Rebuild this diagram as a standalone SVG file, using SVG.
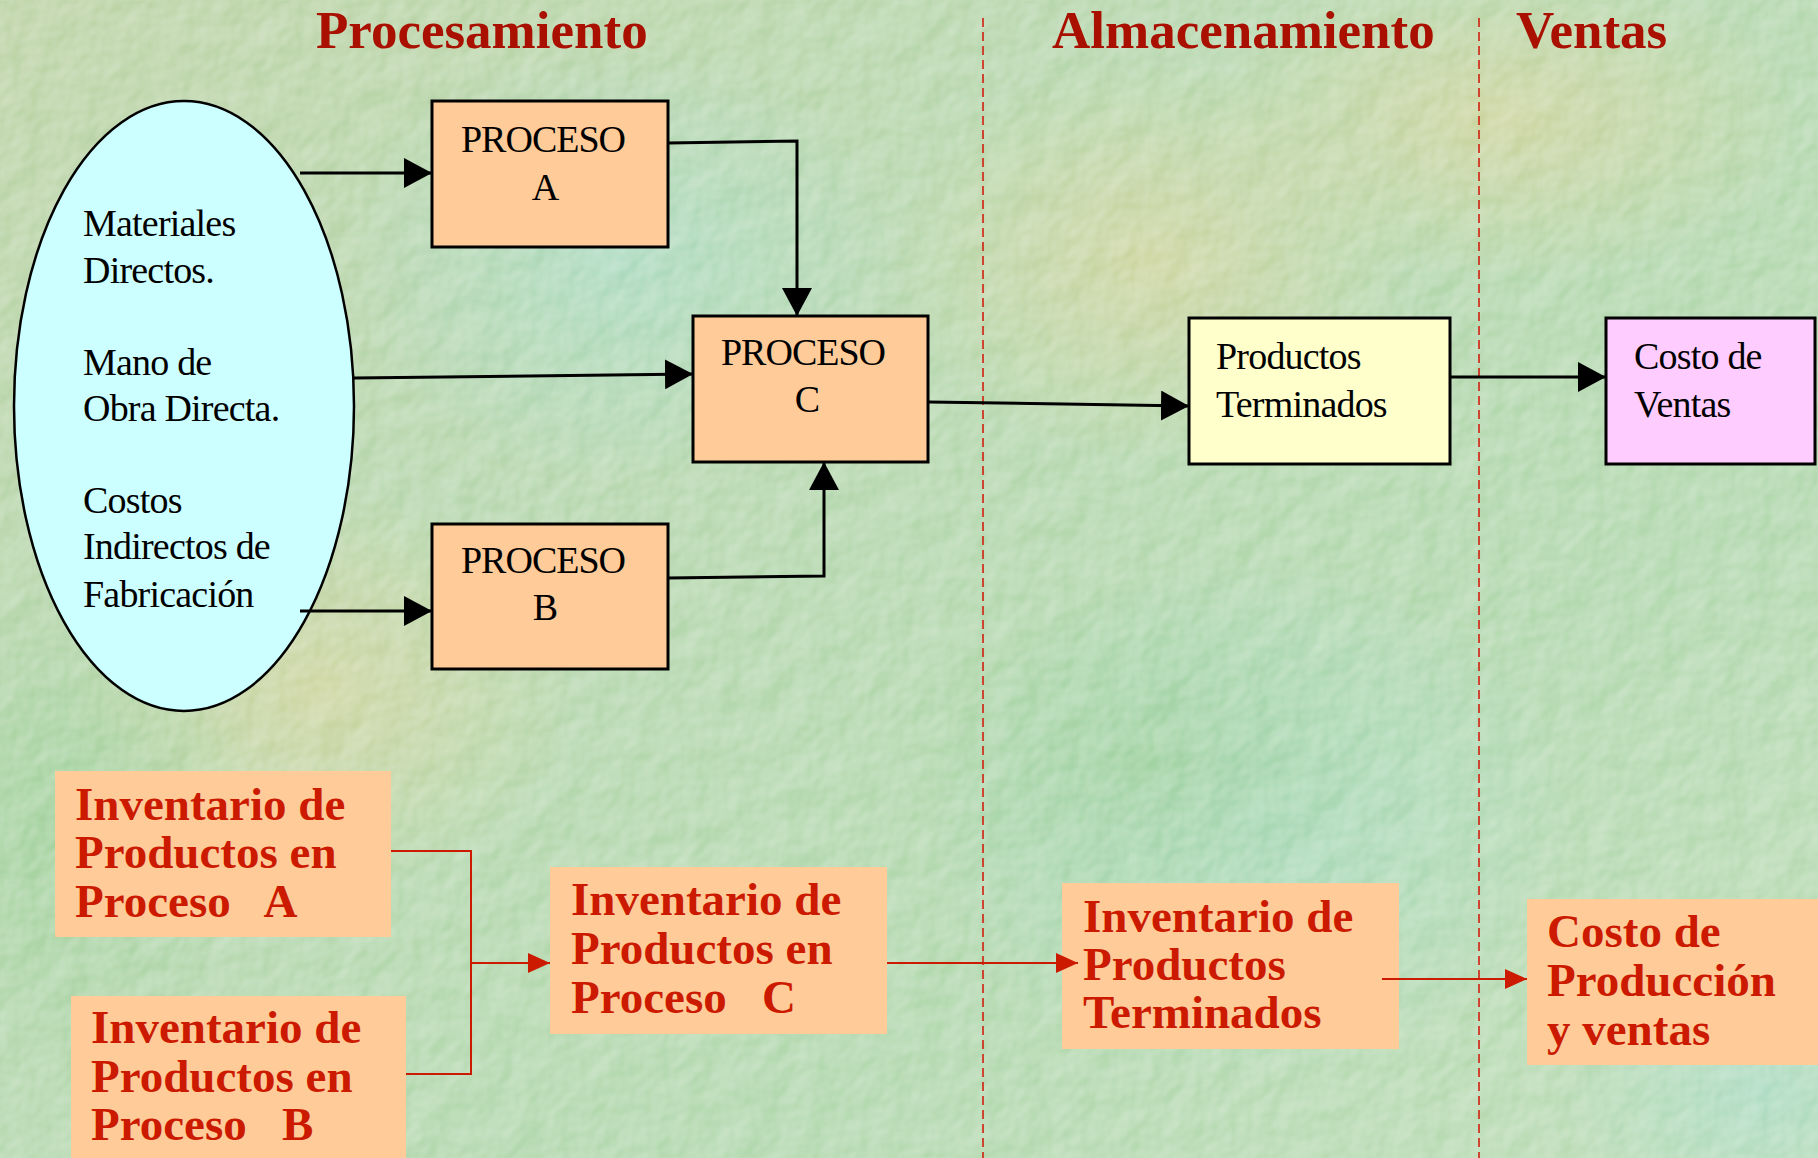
<svg xmlns="http://www.w3.org/2000/svg" width="1818" height="1158" viewBox="0 0 1818 1158">
<defs>
<linearGradient id="bg" x1="0" y1="0" x2="1" y2="1">
<stop offset="0" stop-color="#bdd3a6"/>
<stop offset="0.35" stop-color="#b6d7ae"/>
<stop offset="0.7" stop-color="#b2d8ae"/>
<stop offset="1" stop-color="#bcdcb6"/>
</linearGradient>
<radialGradient id="y1" cx="0.5" cy="0.5" r="0.5"><stop offset="0" stop-color="#d8d49a" stop-opacity="0.7"/><stop offset="1" stop-color="#d8d49a" stop-opacity="0"/></radialGradient>
<radialGradient id="c1" cx="0.5" cy="0.5" r="0.5"><stop offset="0" stop-color="#a8dcc8" stop-opacity="0.7"/><stop offset="1" stop-color="#a8dcc8" stop-opacity="0"/></radialGradient>
<radialGradient id="g1" cx="0.5" cy="0.5" r="0.5"><stop offset="0" stop-color="#9ccf98" stop-opacity="0.7"/><stop offset="1" stop-color="#9ccf98" stop-opacity="0"/></radialGradient>
<filter id="tex" x="0" y="0" width="100%" height="100%">
<feTurbulence type="fractalNoise" baseFrequency="0.03" numOctaves="3" seed="7" result="n"/>
<feDiffuseLighting in="n" surfaceScale="3" lighting-color="#ffffff" diffuseConstant="1" result="l"><feDistantLight azimuth="225" elevation="50"/></feDiffuseLighting>
<feColorMatrix in="l" type="matrix" values="0 0 0 0 1  0 0 0 0 1  0 0 0 0 1  0.9 0 0 0 -0.55"/>
</filter>
<marker id="ab" markerUnits="userSpaceOnUse" markerWidth="28" markerHeight="30" refX="28" refY="15" orient="auto"><path d="M0,0 L28,15 L0,30 z" fill="#000"/></marker>
<marker id="ar" markerUnits="userSpaceOnUse" markerWidth="22" markerHeight="20" refX="22" refY="10" orient="auto"><path d="M0,0 L22,10 L0,20 z" fill="#cc1a00"/></marker>
</defs>
<style>
.title{font-family:"Liberation Serif",serif;font-weight:bold;font-size:53px;fill:#aa1000}
.t{font-family:"Liberation Serif",serif;font-size:38px;fill:#000;letter-spacing:-0.8px}
.tc{font-family:"Liberation Serif",serif;font-size:38px;fill:#000;letter-spacing:-1px;text-anchor:middle}
.r{font-family:"Liberation Serif",serif;font-weight:bold;font-size:47px;fill:#cc1a00;white-space:pre}
.box{stroke:#000;stroke-width:3}
.inv{fill:#ffcc99}
.bl{fill:none;stroke:#000;stroke-width:3;marker-end:url(#ab)}
.rl{fill:none;stroke:#cc1a00;stroke-width:2}
.div{stroke:#d02010;stroke-width:1.6;stroke-dasharray:9 5}
</style>
<g id="background">
<rect width="1818" height="1158" fill="url(#bg)"/>
<ellipse cx="1150" cy="260" rx="260" ry="200" fill="url(#y1)"/>
<ellipse cx="320" cy="690" rx="260" ry="200" fill="url(#y1)"/>
<ellipse cx="1500" cy="120" rx="300" ry="160" fill="url(#y1)"/>
<ellipse cx="620" cy="260" rx="280" ry="220" fill="url(#c1)"/>
<ellipse cx="1250" cy="820" rx="320" ry="260" fill="url(#c1)"/>
<ellipse cx="1760" cy="1090" rx="200" ry="160" fill="url(#c1)"/>
<ellipse cx="60" cy="820" rx="200" ry="260" fill="url(#g1)"/>
<ellipse cx="1150" cy="760" rx="260" ry="180" fill="url(#g1)"/>
<rect width="1818" height="1158" filter="url(#tex)"/>
</g>
<g id="titles">
<text class="title" x="316" y="48">Procesamiento</text>
<text class="title" x="1052" y="48">Almacenamiento</text>
<text class="title" x="1516" y="48">Ventas</text>
</g>
<g id="dividers">
<line class="div" x1="983" y1="18" x2="983" y2="1158"/>
<line class="div" x1="1479" y1="18" x2="1479" y2="1158"/>
</g>
<g id="insumos">
<ellipse cx="184" cy="406" rx="170" ry="305" fill="#ccffff" stroke="#000" stroke-width="2.5"/>
<text class="t" x="83" y="236">Materiales</text>
<text class="t" x="83" y="283">Directos.</text>
<text class="t" x="83" y="375">Mano de</text>
<text class="t" x="83" y="421">Obra Directa.</text>
<text class="t" x="83" y="513">Costos</text>
<text class="t" x="83" y="559">Indirectos de</text>
<text class="t" x="83" y="607">Fabricación</text>
</g>
<g id="proceso-a">
<rect class="box inv" x="432" y="101" width="236" height="146"/>
<text class="tc" x="543" y="152">PROCESO</text>
<text class="tc" x="545" y="200">A</text>
</g>
<g id="proceso-b">
<rect class="box inv" x="432" y="524" width="236" height="145"/>
<text class="tc" x="543" y="573">PROCESO</text>
<text class="tc" x="545" y="620">B</text>
</g>
<g id="proceso-c">
<rect class="box inv" x="693" y="316" width="235" height="146"/>
<text class="tc" x="803" y="365">PROCESO</text>
<text class="tc" x="807" y="412">C</text>
</g>
<g id="productos-terminados">
<rect class="box" fill="#ffffcc" x="1189" y="318" width="261" height="146"/>
<text class="t" x="1216" y="369">Productos</text>
<text class="t" x="1216" y="417">Terminados</text>
</g>
<g id="costo-ventas">
<rect class="box" fill="#ffccff" x="1606" y="318" width="209" height="146"/>
<text class="t" x="1634" y="369">Costo de</text>
<text class="t" x="1634" y="417">Ventas</text>
</g>
<g id="inv-a">
<rect class="inv" x="55" y="771" width="336" height="166"/>
<text class="r" x="75" y="820">Inventario de</text>
<text class="r" x="75" y="868">Productos en</text>
<text class="r" x="75" y="917">Proceso   A</text>
</g>
<g id="inv-b">
<rect class="inv" x="71" y="996" width="335" height="162"/>
<text class="r" x="91" y="1043">Inventario de</text>
<text class="r" x="91" y="1092">Productos en</text>
<text class="r" x="91" y="1140">Proceso   B</text>
</g>
<g id="inv-c">
<rect class="inv" x="550" y="867" width="337" height="167"/>
<text class="r" x="571" y="915">Inventario de</text>
<text class="r" x="571" y="964">Productos en</text>
<text class="r" x="571" y="1013">Proceso   C</text>
</g>
<g id="inv-terminados">
<rect class="inv" x="1062" y="883" width="337" height="166"/>
<text class="r" x="1083" y="932">Inventario de</text>
<text class="r" x="1083" y="980">Productos</text>
<text class="r" x="1083" y="1028">Terminados</text>
</g>
<g id="costo-produccion">
<rect class="inv" x="1527" y="899" width="291" height="166"/>
<text class="r" x="1547" y="947">Costo de</text>
<text class="r" x="1547" y="996">Producción</text>
<text class="r" x="1547" y="1045">y ventas</text>
</g>
<g id="connectors">
<path class="bl" d="M300,173 L432,173"/>
<path class="bl" d="M668,143 L797,141 L797,316"/>
<path class="bl" d="M354,378 L693,374"/>
<path class="bl" d="M300,611 L432,611"/>
<path class="bl" d="M668,578 L824,576 L824,462"/>
<path class="bl" d="M929,402 L1189,406"/>
<path class="bl" d="M1450,377 L1606,377"/>
<path class="rl" d="M391,851 L471,851 L471,1074 L406,1074"/>
<path class="rl" d="M471,963 L550,963" marker-end="url(#ar)"/>
<path class="rl" d="M887,963 L1078,963" marker-end="url(#ar)"/>
<path class="rl" d="M1382,979 L1527,979" marker-end="url(#ar)"/>
</g>
</svg>
